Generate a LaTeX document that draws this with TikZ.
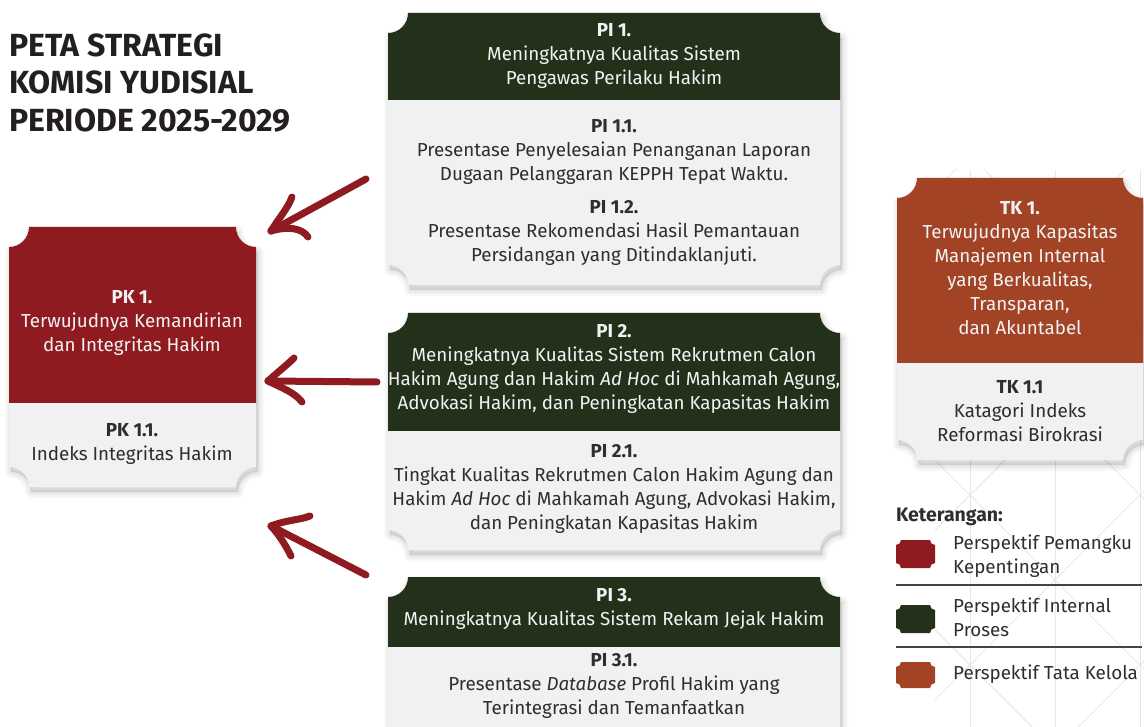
\documentclass[tikz,border=0pt]{standalone}
\usepackage{fontspec}
\setmainfont{Fira Sans}
\definecolor{kyred}{HTML}{8F1B20}
\definecolor{kygreen}{HTML}{23301A}
\definecolor{kybrown}{HTML}{A24325}
\definecolor{kybody}{HTML}{F0F1F3}
\definecolor{kytext}{HTML}{2E2E2E}
\definecolor{kyhead}{HTML}{F2F2F2}
\definecolor{kypat}{HTML}{E6E6E6}
\definecolor{kytitle}{HTML}{231F20}
\definecolor{kyrule}{HTML}{444444}

\newcommand\notchpath[5]{(#1+#5,#2) -- (#3-#5,#2) arc[start angle=180,end angle=90,radius=#5] -- (#3,#4-#5) arc[start angle=270,end angle=180,radius=#5] -- (#1+#5,#4) arc[start angle=360,end angle=270,radius=#5] -- (#1,#2+#5) arc[start angle=90,end angle=0,radius=#5] -- cycle}

% x1 y1 x2 yheader y2 colour radius
\newcommand\kybox[7]{%
  \foreach \w in {12,9,6,3} {\fill[black,opacity=0.025,draw=black,line width=\w pt,line join=round,shift={(2,5)}] \notchpath{#1}{#2}{#3}{#5}{#7};}
  \fill[kybody] \notchpath{#1}{#2}{#3}{#5}{#7};
  \begin{scope}\clip (#1,#2) rectangle (#3,#4); \fill[#6] \notchpath{#1}{#2}{#3}{#5}{#7}; \end{scope}
}
\newcommand\kyfont{\fontsize{18.8}{24}\selectfont}

\tikzset{
  hd/.style={text=kyhead, align=center, font=\kyfont, inner sep=0pt},
  bd/.style={text=kytext, align=center, font=\kyfont, inner sep=0pt},
  lg/.style={text=kytext, align=left, font=\kyfont, inner sep=0pt, anchor=west},
  kyarrow/.style={draw=kyred, line width=7pt, line cap=round, line join=round},
  pat/.style={draw=kypat, line width=0.8pt}
}

\begin{document}
\begin{tikzpicture}[x=1pt,y=-1pt]
\useasboundingbox (0,0) rectangle (1144,727);
\clip (0,0) rectangle (1144,727);
\fill[white] (0,0) rectangle (1144,727);

% background pattern
\begin{scope}
  \clip (935,170) rectangle (1144,727);
  \foreach \x in {970,1055,1140} {\draw[pat] (\x,170) -- (\x,727);}
  \foreach \k in {-4,...,4} {
    \draw[pat] (900,900-475-170*\k) -- (1200,1200-475-170*\k);
    \draw[pat] (900,1465+170*\k-900) -- (1200,1465+170*\k-1200);
  }
\end{scope}

% title
\node[anchor=north west, inner sep=0pt, align=left, text=kytitle, font=\fontsize{32}{37.5}\selectfont\bfseries] (title) at (9,33.5) {PETA STRATEGI\\KOMISI YUDISIAL\\PERIODE 2025-2029};

% boxes
\kybox{388}{13}{840}{100}{285}{kygreen}{20}
\kybox{388}{313}{840}{430}{550}{kygreen}{20}
\kybox{388}{577}{840}{646}{760}{kygreen}{20}
\kybox{9}{227}{256}{403}{487}{kyred}{20}
\kybox{897}{178}{1143}{363}{460}{kybrown}{20}

% texts
\node[hd] (pi1) at (614,55.5) {\textbf{PI 1.}\\Meningkatnya Kualitas Sistem\\Pengawas Perilaku Hakim};
\node[bd] (pi11) at (614,151.5) {\textbf{PI 1.1.}\\Presentase Penyelesaian Penanganan Laporan\\Dugaan Pelanggaran KEPPH Tepat Waktu.};
\node[bd] (pi12) at (614,233) {\textbf{PI 1.2.}\\Presentase Rekomendasi Hasil Pemantauan\\Persidangan yang Ditindaklanjuti.};

\node[hd] (pi2) at (614,369) {\textbf{PI 2.}\\Meningkatnya Kualitas Sistem Rekrutmen Calon\\Hakim Agung dan Hakim \textit{Ad Hoc} di Mahkamah Agung,\\Advokasi Hakim, dan Peningkatan Kapasitas Hakim};
\node[bd] (pi21) at (614,489) {\textbf{PI 2.1.}\\Tingkat Kualitas Rekrutmen Calon Hakim Agung dan\\Hakim \textit{Ad Hoc} di Mahkamah Agung, Advokasi Hakim,\\dan Peningkatan Kapasitas Hakim};

\node[hd] (pi3) at (614,608.5) {\textbf{PI 3.}\\Meningkatnya Kualitas Sistem Rekam Jejak Hakim};
\node[bd] (pi31) at (614,686) {\textbf{PI 3.1.}\\Presentase \textit{Database} Profil Hakim yang\\Terintegrasi dan Temanfaatkan};

\node[hd] (pk1) at (132,323) {\textbf{PK 1.}\\Terwujudnya Kemandirian\\dan Integritas Hakim};
\node[bd] (pk11) at (132,443.5) {\textbf{PK 1.1.}\\Indeks Integritas Hakim};

\node[hd] (tk1) at (1020,268.5) {\textbf{TK 1.}\\Terwujudnya Kapasitas\\Manajemen Internal\\yang Berkualitas,\\Transparan,\\dan Akuntabel};
\node[bd] (tk11) at (1020,411) {\textbf{TK 1.1}\\Katagori Indeks\\Reformasi Birokrasi};

% legend
\node[lg, font=\fontsize{19.5}{24}\selectfont\bfseries] (leg) at (896,517) {Keterangan:};
\fill[kyred] \notchpath{896}{540}{935}{568}{5};
\fill[kygreen] \notchpath{896}{605}{935}{633}{5};
\fill[kybrown] \notchpath{896}{662}{935}{688}{5};
\node[lg] (l1) at (953,556) {Perspektif Pemangku\\Kepentingan};
\node[lg] (l2) at (953,617.5) {Perspektif Internal\\Proses};
\node[lg] (l3) at (953,674) {Perspektif Tata Kelola};
\draw[kyrule, line width=1.3pt] (896,585) -- (1142,585);
\draw[kyrule, line width=1.3pt] (896,647) -- (1142,647);

% arrows
\coordinate (a1s) at (366,179);
\coordinate (a1t) at (271,231);
\coordinate (a1u) at (292,197);
\coordinate (a1l) at (308,237);
\draw[kyarrow] (a1s) -- (a1t);
\draw[kyarrow] (a1t) .. controls (279,218) and (288,208) .. (a1u);
\draw[kyarrow] (a1t) .. controls (288,226) and (302,228) .. (a1l);

\coordinate (a2s) at (377,382);
\coordinate (a2t) at (268,381);
\coordinate (a2u) at (294,358);
\coordinate (a2l) at (302,402);
\draw[kyarrow] (a2s) -- (a2t);
\draw[kyarrow] (a2t) .. controls (278,372) and (288,364) .. (a2u);
\draw[kyarrow] (a2t) .. controls (282,388) and (294,392) .. (a2l);

\coordinate (a3s) at (366,575);
\coordinate (a3t) at (271,526);
\coordinate (a3u) at (310,516);
\coordinate (a3l) at (291,556);
\draw[kyarrow] (a3s) -- (a3t);
\draw[kyarrow] (a3t) .. controls (286,520) and (300,520) .. (a3u);
\draw[kyarrow] (a3t) .. controls (280,536) and (286,546) .. (a3l);
\end{tikzpicture}
\end{document}
